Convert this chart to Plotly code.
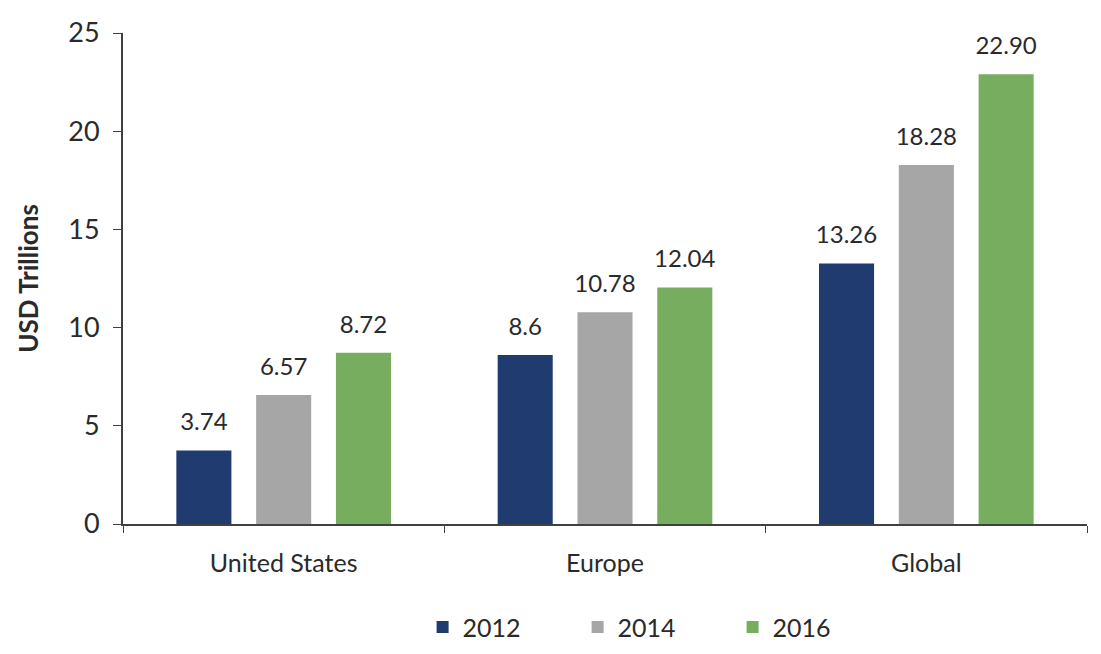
import plotly.graph_objects as go

regions = ["United States", "Europe", "Global"]
years = ["2012", "2014", "2016"]
values_2012 = [3.74, 8.6, 13.26]
values_2014 = [6.57, 10.78, 18.28]
values_2016 = [8.72, 12.04, 22.90]
labels_2012 = ["3.74", "8.6", "13.26"]
labels_2014 = ["6.57", "10.78", "18.28"]
labels_2016 = ["8.72", "12.04", "22.90"]
y_ticks = [0, 5, 10, 15, 20, 25]

colors = ["#1F3B6F", "#A6A6A6", "#77AD5E"]
series = [values_2012, values_2014, values_2016]
labels = [labels_2012, labels_2014, labels_2016]

FONT = "Lato, Open Sans, sans-serif"
TXT = "#2a2a2a"

fig = go.Figure()
for yr, vals, col in zip(years, series, colors):
    fig.add_trace(go.Bar(
        name=yr, x=regions, y=vals, offsetgroup=yr,
        marker=dict(color=col, line=dict(width=0)),
    ))
for yr, vals, lbl in zip(years, series, labels):
    fig.add_trace(go.Scatter(
        x=regions, y=vals, text=lbl, mode="markers+text", offsetgroup=yr,
        textposition="top center", showlegend=False, hoverinfo="skip",
        marker=dict(size=21, opacity=0, color="white"),
        textfont=dict(size=24, color=TXT, family=FONT),
        cliponaxis=False,
    ))

fig.update_layout(
    width=1101, height=654,
    barmode="group", bargap=0.255, bargroupgap=0.31,
    scattermode="group", scattergap=0.255,
    plot_bgcolor="white", paper_bgcolor="white",
    margin=dict(l=123, r=14, t=33, b=130),
    font=dict(family=FONT, size=24, color=TXT),
    showlegend=True,
    legend=dict(orientation="h", xref="container", yref="container",
                x=0.595, xanchor="center", y=0.041, yanchor="middle",
                font=dict(size=25, color=TXT), itemwidth=30,
                traceorder="normal", tracegroupgap=0, entrywidth=110),
)
fig.update_xaxes(
    automargin=False,
    showline=True, linecolor="#404040", linewidth=2,
    ticks="outside", tickson="boundaries", ticklen=7, tickcolor="#404040",
    tickfont=dict(size=25, color=TXT), showgrid=False, ticklabelstandoff=16,
)
fig.update_yaxes(
    automargin=False,
    range=[0, 25], tickvals=y_ticks, showline=True, linecolor="#404040", linewidth=2,
    ticks="outside", ticklen=8, tickcolor="#404040", showgrid=False, zeroline=False,
    tickfont=dict(size=27, color=TXT), ticklabelstandoff=8,
    title=dict(text="<b>USD Trillions</b>", font=dict(size=26, color=TXT), standoff=22),
)

fig.write_html("out.html", config={"displayModeBar": False},
               post_script="document.body.style.margin='0';")
